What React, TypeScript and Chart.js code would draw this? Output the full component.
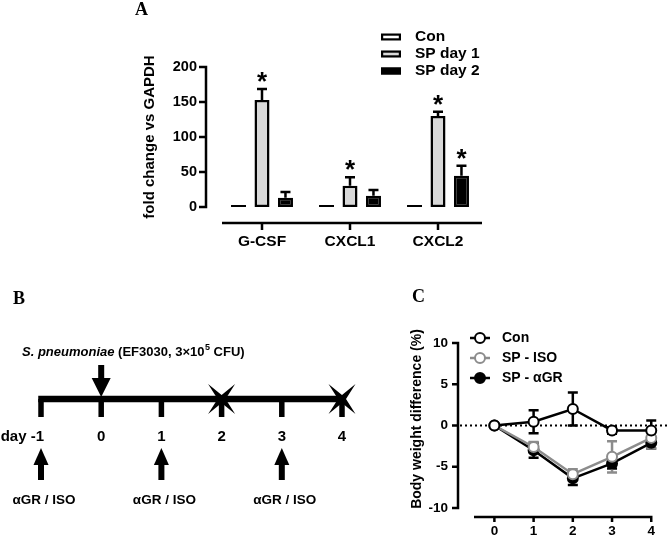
import React, { useEffect, useRef } from "react";
import { Chart, registerables } from "chart.js";

Chart.register(...registerables);

const SANS = "'Liberation Sans', Arial, Helvetica, sans-serif";
const SERIF = "'Liberation Serif', 'Times New Roman', serif";

// ---------- Panel A data ----------
const genes = ["G-CSF", "CXCL1", "CXCL2"];
const seriesNamesA = ["Con", "SP day 1", "SP day 2"];
const conFold = [3, 3, 3];
const spDay1Fold = [153, 30.5, 130];
const spDay2Fold = [13.3, 16.2, 44.8];
const conFoldErr = [0, 0, 0];
const spDay1FoldErr = [15.5, 12, 6];
const spDay2FoldErr = [8, 8, 14];
const conSig = [false, false, false];
const spDay1Sig = [true, true, true];
const spDay2Sig = [false, false, true];
const yTicksA = [0, 50, 100, 150, 200];
const yTitleA = "fold change vs GAPDH";

// ---------- Panel B data ----------
const timelineDays = [-1, 0, 1, 2, 3, 4];
const timelineDayLabels = ["day -1", "0", "1", "2", "3", "4"];
const infectionDays = [0];
const treatmentDays = [-1, 1, 3];
const treatmentLabel = "αGR / ISO";
const endpointDays = [2, 4];
const infectionItalic = "S. pneumoniae";
const infectionRest = " (EF3030, 3×10";
const infectionSup = "5";
const infectionEnd = " CFU)";

// ---------- Panel C data ----------
const daysC = [0, 1, 2, 3, 4];
const seriesNamesC = ["Con", "SP - ISO", "SP - αGR"];
const conWeight = [0, 0.45, 2.0, -0.6, -0.6];
const conWeightErr = [0, 1.4, 2.0, 0.4, 1.2];
const isoWeight = [0, -2.6, -5.9, -3.8, -1.5];
const isoWeightErr = [0, 0.6, 0.6, 1.9, 1.3];
const agrWeight = [0, -3.0, -6.4, -4.6, -2.1];
const agrWeightErr = [0, 0.9, 0.8, 0.6, 0.7];
const yTicksC = [-10, -5, 0, 5, 10];
const xTicksC = [0, 1, 2, 3, 4];
const yTitleC = "Body weight difference (%)";

const colorsA = ["#ffffff", "#d9d9d9", "#000000"];
const colorsC = ["#000000", "#8c8c8c", "#000000"];
const fillsC = ["#ffffff", "#ffffff", "#000000"];

// ---------- Panel A plugin ----------
const panelAPlugin = {
  id: "panelA",
  afterDatasetsDraw(chart: any) {
    const ctx = chart.ctx;
    const ys = chart.scales.y;
    const xs = chart.scales.x;
    const ca = chart.chartArea;
    const vals = [conFold, spDay1Fold, spDay2Fold];
    const errs = [conFoldErr, spDay1FoldErr, spDay2FoldErr];
    const sigs = [conSig, spDay1Sig, spDay2Sig];
    ctx.save();
    ctx.strokeStyle = "#000";
    ctx.fillStyle = "#000";
    ctx.lineWidth = 2.5;
    chart.data.datasets.forEach((_ds: any, di: number) => {
      const meta = chart.getDatasetMeta(di);
      meta.data.forEach((bar: any, i: number) => {
        const v = vals[di][i];
        const e = errs[di][i];
        const top = ys.getPixelForValue(v);
        const x = bar.x;
        let tip = top;
        if (e > 0) {
          tip = ys.getPixelForValue(v + e);
          ctx.beginPath();
          ctx.moveTo(x, top);
          ctx.lineTo(x, tip);
          ctx.moveTo(x - 5, tip);
          ctx.lineTo(x + 5, tip);
          ctx.stroke();
        }
        if (sigs[di][i]) {
          ctx.font = `bold 26px ${SANS}`;
          ctx.textAlign = "center";
          ctx.textBaseline = "alphabetic";
          ctx.fillText("*", x, tip - 14 + 0.57 * 26);
        }
      });
    });

    // axes
    const axisX = ca.left - 12;
    ctx.lineWidth = 2.5;
    ctx.beginPath();
    ctx.moveTo(axisX, ys.getPixelForValue(yTicksA[yTicksA.length - 1]) - 1.25);
    ctx.lineTo(axisX, ys.getPixelForValue(0) + 1.25);
    yTicksA.forEach((v) => {
      const y = ys.getPixelForValue(v);
      ctx.moveTo(axisX - 7, y);
      ctx.lineTo(axisX, y);
    });
    ctx.stroke();

    ctx.beginPath();
    ctx.moveTo(ca.left + 4, ca.bottom);
    ctx.lineTo(ca.right, ca.bottom);
    genes.forEach((_g, i) => {
      const x = xs.getPixelForValue(i);
      ctx.moveTo(x, ca.bottom);
      ctx.lineTo(x, ca.bottom + 7);
    });
    ctx.stroke();

    // legend
    seriesNamesA.forEach((name, i) => {
      const y = 37 + 17 * i;
      const bx = 281;
      ctx.fillStyle = colorsA[i];
      ctx.fillRect(bx, y - 3.5, 20, 7);
      ctx.strokeStyle = "#000";
      ctx.lineWidth = 2.2;
      ctx.strokeRect(bx + 1.1, y - 3.5 + 1.1, 20 - 2.2, 7 - 2.2);
      ctx.fillStyle = "#000";
      ctx.font = `bold 15.5px ${SANS}`;
      ctx.textAlign = "left";
      ctx.textBaseline = "middle";
      ctx.fillText(name, 315, y);
    });

    // y title
    ctx.save();
    ctx.translate(50, 137);
    ctx.rotate(-Math.PI / 2);
    ctx.font = `bold 15px ${SANS}`;
    ctx.textAlign = "center";
    ctx.textBaseline = "middle";
    ctx.fillStyle = "#000";
    ctx.fillText(yTitleA, 0, 0);
    ctx.restore();

    ctx.restore();
  },
};

function configA(): any {
  const vals = [conFold, spDay1Fold, spDay2Fold];
  return {
    type: "bar",
    data: {
      labels: genes,
      datasets: seriesNamesA.map((name, i) => ({
        label: name,
        data: vals[i],
        backgroundColor: colorsA[i],
        borderColor: "#000",
        borderWidth: 2.5,
        borderSkipped: false,
        categoryPercentage: 0.8,
        barPercentage: 0.64,
      })),
    },
    options: {
      responsive: false,
      animation: false,
      layout: { padding: { left: 0, right: 8, top: 67, bottom: 0 } },
      plugins: { legend: { display: false }, tooltip: { enabled: false } },
      scales: {
        x: {
          type: "category",
          offset: true,
          grid: { display: false, drawTicks: false },
          border: { display: false },
          ticks: { color: "#000", font: { family: SANS, size: 15.5, weight: "bold" }, padding: 9 },
          afterFit: (s: any) => {
            s.height = 37;
          },
        },
        y: {
          type: "linear",
          min: -22.86,
          max: 200,
          grid: { display: false, drawTicks: false },
          border: { display: false },
          ticks: { color: "#000", font: { family: SANS, size: 14.5, weight: "bold" }, padding: 21 },
          afterBuildTicks: (s: any) => {
            s.ticks = yTicksA.map((v) => ({ value: v }));
          },
          afterFit: (s: any) => {
            s.width = 118;
          },
        },
      },
    },
    plugins: [panelAPlugin],
  };
}

// ---------- Panel B plugin ----------
const panelBPlugin = {
  id: "panelB",
  afterDraw(chart: any) {
    const ctx = chart.ctx;
    const xs = chart.scales.x;
    const ys = chart.scales.y;
    const X = (d: number) => xs.getPixelForValue(d);
    const base = ys.getPixelForValue(0);
    const first = timelineDays[0];
    const last = timelineDays[timelineDays.length - 1];
    ctx.save();
    ctx.fillStyle = "#000";
    // main line
    ctx.fillRect(X(first) - 2.75, base - 3.25, X(last) - X(first) + 2.75, 6.5);
    // ticks
    timelineDays.forEach((d) => {
      ctx.fillRect(X(d) - 2.75, base, 5.5, 18);
    });
    // infection arrow(s)
    infectionDays.forEach((d) => {
      const x = X(d);
      ctx.fillRect(x - 3, base - 34, 6, 14);
      ctx.beginPath();
      ctx.moveTo(x - 9.5, base - 21);
      ctx.lineTo(x + 9.5, base - 21);
      ctx.lineTo(x, base - 2);
      ctx.closePath();
      ctx.fill();
    });
    // treatment arrows
    treatmentDays.forEach((d) => {
      const x = X(d);
      ctx.beginPath();
      ctx.moveTo(x, base + 49);
      ctx.lineTo(x + 7.5, base + 66);
      ctx.lineTo(x - 7.5, base + 66);
      ctx.closePath();
      ctx.fill();
      ctx.fillRect(x - 3, base + 65, 6, 16);
      ctx.font = `bold 13.5px ${SANS}`;
      ctx.textAlign = "center";
      ctx.textBaseline = "middle";
      ctx.fillText(treatmentLabel, x + 3, base + 101);
    });
    // endpoint stars
    endpointDays.forEach((d) => {
      const x = X(d);
      const ox = 13.5, oy = 15, r = 4;
      ctx.beginPath();
      ctx.moveTo(x - ox, base - oy);
      ctx.lineTo(x, base - r);
      ctx.lineTo(x + ox, base - oy);
      ctx.lineTo(x + r, base);
      ctx.lineTo(x + ox, base + oy);
      ctx.lineTo(x, base + r);
      ctx.lineTo(x - ox, base + oy);
      ctx.lineTo(x - r, base);
      ctx.closePath();
      ctx.fill();
    });
    // day labels
    ctx.font = `bold 15px ${SANS}`;
    ctx.textBaseline = "middle";
    timelineDays.forEach((d, i) => {
      if (i === 0) {
        ctx.textAlign = "right";
        ctx.fillText(timelineDayLabels[i], X(d) + 3, base + 38);
      } else {
        ctx.textAlign = "center";
        ctx.fillText(timelineDayLabels[i], X(d), base + 38);
      }
    });
    // header
    let hx = X(first) - 19;
    const hy = base - 47;
    ctx.textAlign = "left";
    ctx.font = `italic bold 13px ${SANS}`;
    ctx.fillText(infectionItalic, hx, hy);
    hx += ctx.measureText(infectionItalic).width;
    ctx.font = `bold 13px ${SANS}`;
    ctx.fillText(infectionRest, hx, hy);
    hx += ctx.measureText(infectionRest).width;
    ctx.font = `bold 9px ${SANS}`;
    ctx.fillText(infectionSup, hx + 0.5, hy - 4.5);
    hx += ctx.measureText(infectionSup).width + 0.5;
    ctx.font = `bold 13px ${SANS}`;
    ctx.fillText(infectionEnd, hx, hy);
    ctx.restore();
  },
};

function configB(): any {
  return {
    type: "scatter",
    data: {
      datasets: [
        {
          label: "timeline",
          data: timelineDays.map((d) => ({ x: d, y: 0 })),
          pointRadius: 0,
          showLine: false,
        },
      ],
    },
    options: {
      responsive: false,
      animation: false,
      layout: { padding: { left: 41, right: 28, top: 0, bottom: 0 } },
      plugins: { legend: { display: false }, tooltip: { enabled: false } },
      scales: {
        x: { type: "linear", min: -1, max: 4, display: false },
        y: { type: "linear", min: -147, max: 119, display: false },
      },
    },
    plugins: [panelBPlugin],
  };
}

// ---------- Panel C ----------
const panelCPlugin = {
  id: "panelC",
  beforeDatasetsDraw(chart: any) {
    const ctx = chart.ctx;
    const ys = chart.scales.y;
    const xs = chart.scales.x;
    const ca = chart.chartArea;
    ctx.save();
    // dotted zero line
    ctx.strokeStyle = "#000";
    ctx.lineWidth = 2;
    ctx.setLineDash([2, 3]);
    ctx.beginPath();
    const y0 = ys.getPixelForValue(0);
    ctx.moveTo(ca.left - 14, y0);
    ctx.lineTo(chart.width, y0);
    ctx.stroke();
    ctx.setLineDash([]);
    // error bars
    const vals = [conWeight, isoWeight, agrWeight];
    const errs = [conWeightErr, isoWeightErr, agrWeightErr];
    for (let di = vals.length - 1; di >= 0; di--) {
      ctx.strokeStyle = colorsC[di];
      ctx.lineWidth = 2.5;
      daysC.forEach((d, i) => {
        const e = errs[di][i];
        if (e <= 0) return;
        const x = xs.getPixelForValue(d);
        const t = ys.getPixelForValue(vals[di][i] + e);
        const b = ys.getPixelForValue(vals[di][i] - e);
        ctx.beginPath();
        ctx.moveTo(x, t);
        ctx.lineTo(x, b);
        ctx.moveTo(x - 5, t);
        ctx.lineTo(x + 5, t);
        ctx.moveTo(x - 5, b);
        ctx.lineTo(x + 5, b);
        ctx.stroke();
      });
    }
    ctx.restore();
  },
  afterDraw(chart: any) {
    const ctx = chart.ctx;
    const ys = chart.scales.y;
    const xs = chart.scales.x;
    const ca = chart.chartArea;
    ctx.save();
    ctx.strokeStyle = "#000";
    ctx.lineWidth = 2.5;
    // y axis
    const ax = ca.left - 16;
    ctx.beginPath();
    ctx.moveTo(ax, ys.getPixelForValue(yTicksC[yTicksC.length - 1]) - 1.25);
    ctx.lineTo(ax, ys.getPixelForValue(yTicksC[0]) + 1.25);
    yTicksC.forEach((v) => {
      const y = ys.getPixelForValue(v);
      ctx.moveTo(ax - 6, y);
      ctx.lineTo(ax, y);
    });
    ctx.stroke();
    // x axis
    const ay = ca.bottom + 9;
    ctx.beginPath();
    ctx.moveTo(ca.left, ay);
    ctx.lineTo(ca.right + 1.25, ay);
    xTicksC.forEach((v) => {
      const x = xs.getPixelForValue(v);
      ctx.moveTo(x, ay);
      ctx.lineTo(x, ay + 5);
    });
    ctx.stroke();
    // legend
    seriesNamesC.forEach((name, i) => {
      const y = 58 + 20 * i;
      ctx.strokeStyle = colorsC[i];
      ctx.lineWidth = 2.5;
      ctx.beginPath();
      ctx.moveTo(100, y);
      ctx.lineTo(120, y);
      ctx.stroke();
      ctx.beginPath();
      ctx.arc(110, y, 5, 0, Math.PI * 2);
      ctx.fillStyle = fillsC[i];
      ctx.fill();
      ctx.lineWidth = 2;
      ctx.stroke();
      ctx.fillStyle = "#000";
      ctx.font = `bold 14px ${SANS}`;
      ctx.textAlign = "left";
      ctx.textBaseline = "middle";
      ctx.fillText(name, 132, y);
    });
    // y title
    ctx.save();
    ctx.translate(47, 139);
    ctx.rotate(-Math.PI / 2);
    ctx.font = `bold 14px ${SANS}`;
    ctx.textAlign = "center";
    ctx.textBaseline = "middle";
    ctx.fillStyle = "#000";
    ctx.fillText(yTitleC, 0, 0);
    ctx.restore();
    ctx.restore();
  },
};

function configC(): any {
  const vals = [conWeight, isoWeight, agrWeight];
  return {
    type: "line",
    data: {
      datasets: seriesNamesC.map((name, i) => ({
        label: name,
        data: daysC.map((d, k) => ({ x: d, y: vals[i][k] })),
        borderColor: colorsC[i],
        backgroundColor: fillsC[i],
        borderWidth: 2.5,
        pointRadius: 5,
        pointBorderWidth: 2,
        pointBackgroundColor: fillsC[i],
        pointBorderColor: colorsC[i],
        pointStyle: "circle",
        tension: 0,
        fill: false,
        clip: false,
      })),
    },
    options: {
      responsive: false,
      animation: false,
      layout: { padding: { left: 0, right: 6, top: 63, bottom: 0 } },
      plugins: { legend: { display: false }, tooltip: { enabled: false } },
      scales: {
        x: {
          type: "linear",
          min: -0.52,
          max: 4,
          grid: { display: false, drawTicks: false },
          border: { display: false },
          ticks: { color: "#000", font: { family: SANS, size: 13.5, weight: "bold" }, padding: 15 },
          afterBuildTicks: (s: any) => {
            s.ticks = xTicksC.map((v) => ({ value: v }));
          },
          afterFit: (s: any) => {
            s.height = 38;
          },
        },
        y: {
          type: "linear",
          min: -10,
          max: 10,
          grid: { display: false, drawTicks: false },
          border: { display: false },
          ticks: { color: "#000", font: { family: SANS, size: 13.5, weight: "bold" }, padding: 26 },
          afterBuildTicks: (s: any) => {
            s.ticks = yTicksC.map((v) => ({ value: v }));
          },
          afterFit: (s: any) => {
            s.width = 104;
          },
        },
      },
    },
    plugins: [panelCPlugin],
  };
}

const panelLabel = (left: number, top: number): React.CSSProperties => ({
  position: "absolute",
  left,
  top,
  font: `bold 18px ${SERIF}`,
  lineHeight: "18px",
  color: "#000",
});

export default function App() {
  const refA = useRef<HTMLCanvasElement>(null);
  const refB = useRef<HTMLCanvasElement>(null);
  const refC = useRef<HTMLCanvasElement>(null);
  useEffect(() => {
    const a = new Chart(refA.current!, configA());
    const b = new Chart(refB.current!, configB());
    const c = new Chart(refC.current!, configC());
    return () => {
      a.destroy();
      b.destroy();
      c.destroy();
    };
  }, []);
  return (
    <div
      style={{
        position: "fixed",
        left: 0,
        top: 0,
        width: 670,
        height: 546,
        background: "#fff",
        overflow: "hidden",
      }}
    >
      <canvas ref={refA} width={390} height={260} style={{ position: "absolute", left: 100, top: 0, width: 390, height: 260 }} />
      <canvas ref={refB} width={370} height={266} style={{ position: "absolute", left: 0, top: 280, width: 370, height: 266 }} />
      <canvas ref={refC} width={300} height={266} style={{ position: "absolute", left: 370, top: 280, width: 300, height: 266 }} />
      <div style={panelLabel(135, 0)}>A</div>
      <div style={panelLabel(13, 289)}>B</div>
      <div style={panelLabel(412, 287)}>C</div>
    </div>
  );
}
